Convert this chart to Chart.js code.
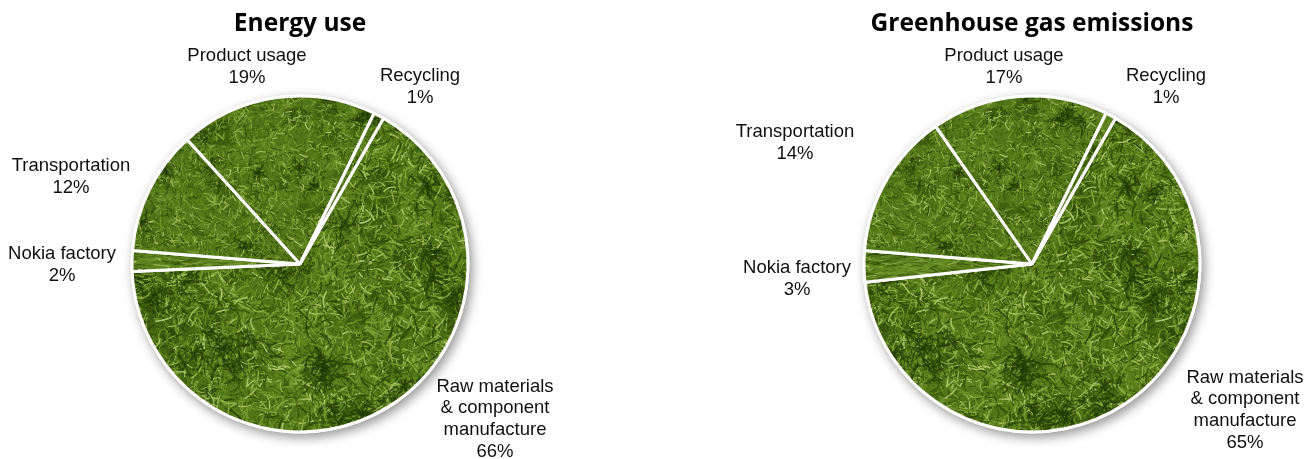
<!DOCTYPE html>
<html>
<head>
<meta charset="utf-8">
<title>Energy use and greenhouse gas emissions</title>
<script src="https://cdn.jsdelivr.net/npm/chart.js@4"></script>
<style>
  html, body { margin: 0; padding: 0; background: #fff; overflow: hidden; }
  #wrap { position: relative; width: 1315px; height: 459px; }
  .box { position: absolute; top: 0; height: 459px; }
</style>
</head>
<body>
<div id="wrap">
  <div class="box" style="left:0;width:600px"><canvas id="energy_chart"></canvas></div>
  <div class="box" style="left:700px;width:615px"><canvas id="emissions_chart"></canvas></div>
</div>
<script>
const categories = [
  ['Raw materials', '& component', 'manufacture'],
  ['Nokia factory'],
  ['Transportation'],
  ['Product usage'],
  ['Recycling']
];
const energyValues = [66, 2, 12, 19, 1];
const emissionValues = [65, 3, 14, 17, 1];

// centre of each label block, in page pixels
const energyLabelPos = [[495, 419], [62, 265], [71, 177], [247, 67], [420, 87]];
const emissionLabelPos = [[1245, 410], [797, 279], [795, 143], [1004, 67], [1166, 87]];

// grass texture, a small fixed generator so every run draws the same tile
const makeGrass = (size, bladeLen, count, seed, stretch, clumps) => {
  let s = seed;
  const next = () => {
    s = (s * 16807) % 2147483647;
    return s / 2147483647;
  };
  const tile = document.createElement('canvas');
  tile.width = size;
  tile.height = size;
  const g = tile.getContext('2d');
  g.fillStyle = '#527519';
  g.fillRect(0, 0, size, size);

  for (let i = 0; i < 90; i++) {
    const x = next() * size, y = next() * size, r = bladeLen * (0.5 + next() * 1.2);
    g.fillStyle = next() < 0.55 ? 'rgba(36,58,6,0.38)' : 'rgba(120,155,50,0.28)';
    for (let dx = -size; dx <= size; dx += size) {
      for (let dy = -size; dy <= size; dy += size) {
        g.beginPath();
        g.ellipse(x + dx, y + dy, r * stretch, r, 0, 0, Math.PI * 2);
        g.fill();
      }
    }
  }

  const blade = (x, y, len, color, width) => {
    const ang = next() * Math.PI * 2;
    const bend = (next() - 0.5) * len * 0.6;
    const ex = Math.cos(ang) * len * stretch, ey = Math.sin(ang) * len / stretch;
    g.strokeStyle = color;
    g.lineWidth = width;
    for (let dx = -size; dx <= size; dx += size) {
      for (let dy = -size; dy <= size; dy += size) {
        g.beginPath();
        g.moveTo(x + dx, y + dy);
        g.quadraticCurveTo(x + dx + ex / 2 - ey / len * bend, y + dy + ey / 2 + ex / len * bend, x + dx + ex, y + dy + ey);
        g.stroke();
      }
    }
  };

  const shades = ['#2c4806', '#3c5b0c', '#4d7014', '#5f861e', '#75992f', '#8fb048', '#aac668'];
  const weights = [0, 0, 1, 1, 1, 2, 2, 2, 3, 3, 3, 3, 4, 4, 4, 5, 5, 6];
  g.lineCap = 'round';
  for (let i = 0; i < count; i++) {
    const color = shades[weights[Math.floor(next() * weights.length)]];
    blade(next() * size, next() * size, bladeLen * (0.4 + next()), color, 0.6 + next() * (bladeLen / 12));
  }

  // dark tufts in the hollows, loose strokes so they do not read as discs
  for (let i = 0; i < clumps; i++) {
    const cx = next() * size, cy = next() * size, spread = bladeLen * (0.8 + next() * 1.4);
    for (let n = 0; n < 26; n++) {
      const a = next() * Math.PI * 2, d = spread * next() * next() * 2;
      blade(cx + Math.cos(a) * d, cy + Math.sin(a) * d, bladeLen * (0.5 + next() * 0.6), 'rgba(34,56,5,0.6)', 0.8 + next() * (bladeLen / 10));
    }
  }

  // soften it, the original is a slightly blurred photo
  const soft = document.createElement('canvas');
  soft.width = size;
  soft.height = size;
  const sg = soft.getContext('2d');
  sg.filter = 'blur(0.7px)';
  sg.drawImage(tile, 0, 0);
  return soft;
};

const coarseTile = makeGrass(300, 13, 7000, 4211, 1, 26);
const fineTile = makeGrass(260, 7, 8000, 9277, 1, 22);
const streakTile = makeGrass(200, 9, 2000, 1733, 2.6, 4);

const pieShadow = {
  id: 'pieShadow',
  beforeDatasetsDraw(chart) {
    const arc = chart.getDatasetMeta(0).data[0];
    const ctx = chart.ctx;
    ctx.save();
    ctx.shadowColor = 'rgba(0,0,0,0.42)';
    ctx.shadowBlur = 11;
    ctx.shadowOffsetX = 3;
    ctx.shadowOffsetY = 4;
    ctx.fillStyle = '#fff';
    ctx.beginPath();
    ctx.arc(arc.x, arc.y, arc.outerRadius + 1.5, 0, Math.PI * 2);
    ctx.fill();
    ctx.restore();
  }
};

const sliceLabels = {
  id: 'sliceLabels',
  afterDraw(chart, args, opts) {
    const ctx = chart.ctx;
    const values = chart.data.datasets[0].data;
    ctx.save();
    ctx.font = '18.5px "Liberation Sans", Arial, sans-serif';
    ctx.fillStyle = '#111';
    ctx.textAlign = 'center';
    ctx.textBaseline = 'middle';
    categories.forEach((lines, i) => {
      const text = lines.concat(values[i] + '%');
      const top = opts.pos[i][1] - (text.length - 1) * 21.7 / 2;
      text.forEach((line, n) => {
        ctx.fillText(line, opts.pos[i][0] - opts.left, top + n * 21.7);
      });
    });
    ctx.restore();
  }
};

const createPie = (id, title, values, labelPos, canvasLeft, padLeft) => {
  const ctx = document.getElementById(id).getContext('2d');
  const coarse = ctx.createPattern(coarseTile, 'repeat');
  const fine = ctx.createPattern(fineTile, 'repeat');
  const streak = ctx.createPattern(streakTile, 'repeat');

  return new Chart(ctx, {
    type: 'pie',
    data: {
      labels: categories.map(lines => lines.join(' ')),
      datasets: [{
        data: values,
        backgroundColor: [coarse, streak, fine, fine, fine],
        borderColor: '#fff',
        borderWidth: 3
      }]
    },
    options: {
      responsive: true,
      maintainAspectRatio: false,
      animation: false,
      rotation: 29.8,
      radius: 168,
      layout: { padding: { left: padLeft } },
      plugins: {
        legend: { display: false },
        tooltip: { enabled: false },
        title: {
          display: true,
          text: title,
          color: '#000',
          font: { family: '"Open Sans"', size: 24.5, weight: 'bold' },
          padding: { top: 9, bottom: 30.6 }
        },
        sliceLabels: { pos: labelPos, left: canvasLeft }
      }
    },
    plugins: [pieShadow, sliceLabels]
  });
};

createPie('energy_chart', 'Energy use', energyValues, energyLabelPos, 0, 0);
createPie('emissions_chart', 'Greenhouse gas emissions', emissionValues, emissionLabelPos, 700, 49);
</script>
</body>
</html>
